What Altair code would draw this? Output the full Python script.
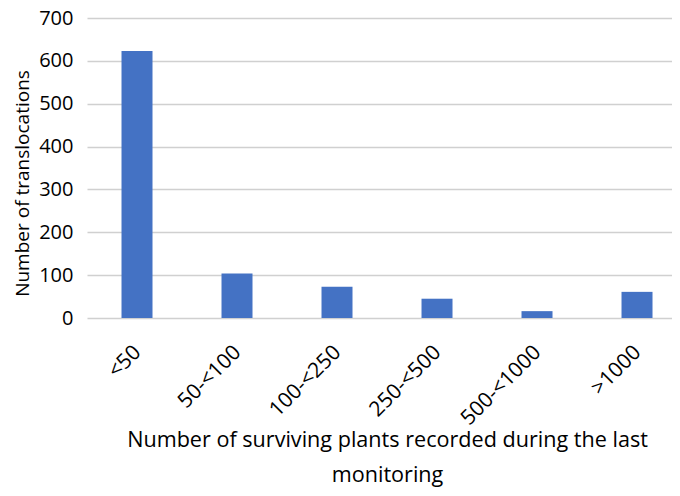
import altair as alt
import pandas as pd

categories = ["<50", "50-<100", "100-<250", "250-<500", "500-<1000", ">1000"]
counts = [623, 104, 73, 45, 16, 61]
y_ticks = [0, 100, 200, 300, 400, 500, 600, 700]

x_title = ["Number of surviving plants recorded during the last", "monitoring"]
y_title = "Number of translocations"

df = pd.DataFrame({"category": categories, "count": counts})

FONT = "Open Sans"

chart = alt.Chart(df).mark_bar(color="#4472C4").encode(
    x=alt.X(
        "category:N",
        sort=categories,
        scale=alt.Scale(paddingInner=0.69, paddingOuter=0.27, align=0.639),
        axis=alt.Axis(
            title=x_title,
            labelAngle=-45,
            labelAlign="right",
            labelBaseline="top",
            labelPadding=23,
            labelOffset=-7,
            labelFont=FONT,
            labelFontSize=21,
            labelColor="black",
            domain=False,
            ticks=False,
            titleX=300,
            titleY=128,
            titleAlign="center",
            titleBaseline="alphabetic",
            titleLineHeight=35,
            titleFont=FONT,
            titleFontSize=21.6,
            titleFontWeight="normal",
            titleColor="black",
        ),
    ),
    y=alt.Y(
        "count:Q",
        scale=alt.Scale(domain=[0, 700], nice=False),
        axis=alt.Axis(
            values=y_ticks,
            title=y_title,
            grid=True,
            gridColor="#d0d0d0",
            gridWidth=1.5,
            domain=False,
            ticks=False,
            labelPadding=14,
            labelFont=FONT,
            labelFontSize=20,
            labelColor="black",
            titleX=-59,
            titleY=165,
            titleAngle=-90,
            titleAlign="center",
            titleBaseline="alphabetic",
            titleFont=FONT,
            titleFontSize=19,
            titleFontWeight="normal",
            titleColor="black",
        ),
    ),
).properties(
    width=585,
    height=300,
    padding={"left": 79, "top": 10, "right": 0, "bottom": 170},
    autosize=alt.AutoSizeParams(type="none"),
).configure_view(strokeWidth=0)

chart.save("out.html", embed_options={"renderer": "svg", "actions": False})
